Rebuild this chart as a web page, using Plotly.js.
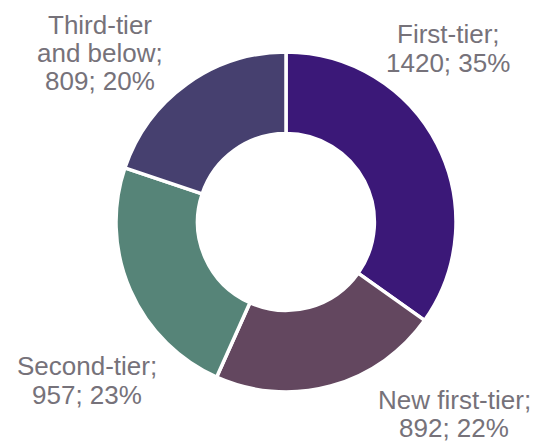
<!DOCTYPE html>
<html>
<head>
<meta charset="utf-8">
<script src="https://cdn.plot.ly/plotly-3.0.1.min.js"></script>
<style>html,body{margin:0;padding:0;background:#fff;}#chart{width:543px;height:444px;}</style>
</head>
<body>
<div id="chart"></div>
<script>
const categories = ["First-tier", "New first-tier", "Second-tier", "Third-tier\nand below"];
const values = [1420, 892, 957, 809];
const percents = [35, 22, 23, 20];
const colors = ["#3b1878", "#63475f", "#568478", "#46406f"];

// label layout in pixels: center x and the middle y of each text line
const labelPx = [
  {x: 448, ys: [34, 63]},
  {x: 454, ys: [400, 428]},
  {x: 87, ys: [366, 395]},
  {x: 100, ys: [25, 53, 81]}
];
const W = 543, H = 444;

const trace = {
  type: "pie",
  labels: categories,
  values: values,
  hole: 0.52,
  sort: false,
  direction: "clockwise",
  rotation: 0,
  textinfo: "none",
  hoverinfo: "label+value+percent",
  marker: {colors: colors, line: {color: "#ffffff", width: 3.5}},
  domain: {x: [116 / W, 456 / W], y: [1 - 392 / H, 1 - 52 / H]},
  showlegend: false
};

const annotations = [];
categories.forEach((c, i) => {
  const lines = c.split("\n");
  lines[lines.length - 1] += ";";
  lines.push(values[i] + "; " + percents[i] + "%");
  lines.forEach((t, k) => {
    annotations.push({
      xref: "paper", yref: "paper",
      x: labelPx[i].x / W, y: 1 - labelPx[i].ys[k] / H,
      xanchor: "center", yanchor: "middle",
      showarrow: false,
      text: t,
      font: {family: "Liberation Sans, Arial, sans-serif", size: 26, color: "#76727a"}
    });
  });
});

const layout = {
  width: W, height: H,
  margin: {l: 0, r: 0, t: 0, b: 0},
  paper_bgcolor: "#ffffff",
  annotations: annotations
};

Plotly.newPlot("chart", [trace], layout, {displayModeBar: false, staticPlot: true});
</script>
</body>
</html>
